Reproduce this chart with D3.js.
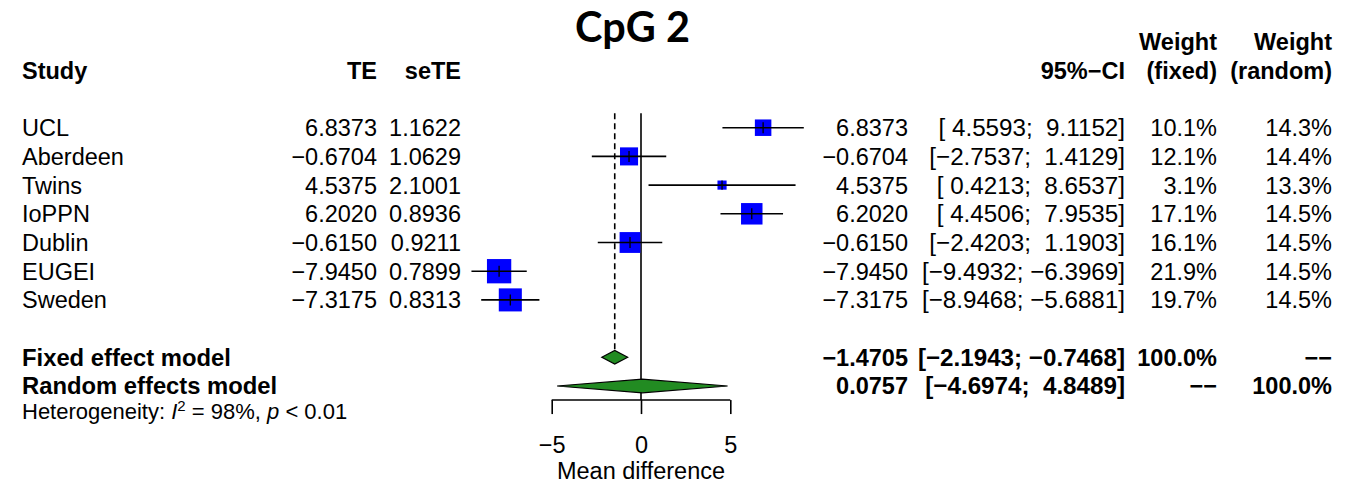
<!DOCTYPE html>
<html>
<head>
<meta charset="utf-8">
<script src="https://cdn.jsdelivr.net/npm/d3@7"></script>
<style>
  body { margin: 0; background: #fff; }
  text { font-family: "Liberation Sans", Arial, sans-serif; white-space: pre; }
</style>
</head>
<body>
<svg id="chart" width="1353" height="484"></svg>
<script>
const studies = ["UCL", "Aberdeen", "Twins", "IoPPN", "Dublin", "EUGEI", "Sweden"];
const te      = [6.8373, -0.6704, 4.5375, 6.2020, -0.6150, -7.9450, -7.3175];
const seTE    = [1.1622, 1.0629, 2.1001, 0.8936, 0.9211, 0.7899, 0.8313];
const lower   = [4.5593, -2.7537, 0.4213, 4.4506, -2.4203, -9.4932, -8.9468];
const upper   = [9.1152, 1.4129, 8.6537, 7.9535, 1.1903, -6.3969, -5.6881];
const wFixed  = [10.1, 12.1, 3.1, 17.1, 16.1, 21.9, 19.7];
const wRandom = [14.3, 14.4, 13.3, 14.5, 14.5, 14.5, 14.5];

const models       = ["Fixed effect model", "Random effects model"];
const modelTE      = [-1.4705, 0.0757];
const modelLower   = [-2.1943, -4.6974];
const modelUpper   = [-0.7468, 4.8489];
const modelWFixed  = [100.0, null];
const modelWRandom = [null, 100.0];

const xTicks = [-5, 0, 5];
const chartTitle = "CpG 2";
const xLabel = "Mean difference";

(function () {
const svg = d3.select("#chart");
const FS = 23.5;

// scales
const x = d3.scaleLinear().domain([-5, 5]).range([551.7, 730.3]);
const row = d3.scaleLinear().domain([0, 1]).range([127.7, 156.4]); // row index -> centre y
const sq = d3.scaleSqrt().domain([0, 21.9]).range([0, 24.3]);       // weight -> square side

const f4 = d3.format(".4f");
const f1 = d3.format(".1f");
const pad = v => (v >= 0 ? " " : "") + f4(v);
const ci = (l, u) => "[" + pad(l) + "; " + pad(u) + "]";
const pct = v => v == null ? "\u2212\u2212" : f1(v) + "%";

const col = { study: 22, te: 377, se: 461, est: 908, ci: 1125, wf: 1217, wr: 1332 };
const base = i => row(i) + 8.4;

function txt(xp, yp, s, opts = {}) {
  return svg.append("text")
    .attr("x", xp).attr("y", yp)
    .attr("font-size", opts.size || FS)
    .attr("font-weight", opts.bold ? "bold" : "normal")
    .attr("text-anchor", opts.anchor || "start")
    .attr("fill", "#000")
    .text(s);
}

// title
const t = svg.append("text")
  .attr("x", 632.5).attr("y", 42)
  .attr("text-anchor", "middle")
  .attr("font-weight", "bold")
  .style("font-family", "Lato, 'Open Sans', sans-serif")
  .attr("font-size", 38)
  .text(chartTitle);
const tl = t.node().getComputedTextLength();
t.attr("font-size", 38 * 115 / tl);

// headers
txt(col.study, base(-2), "Study", { bold: true });
txt(col.te, base(-2), "TE", { bold: true, anchor: "end" });
txt(col.se, base(-2), "seTE", { bold: true, anchor: "end" });
txt(col.ci, base(-2), "95%\u2212CI", { bold: true, anchor: "end" });
txt(col.wf, base(-3), "Weight", { bold: true, anchor: "end" });
txt(col.wf, base(-2), "(fixed)", { bold: true, anchor: "end" });
txt(col.wr, base(-3), "Weight", { bold: true, anchor: "end" });
txt(col.wr, base(-2), "(random)", { bold: true, anchor: "end" });

// study rows text
studies.forEach((s, i) => {
  txt(col.study, base(i), s);
  txt(col.te, base(i), f4(te[i]), { anchor: "end" });
  txt(col.se, base(i), f4(seTE[i]), { anchor: "end" });
  txt(col.est, base(i), f4(te[i]), { anchor: "end" });
  txt(col.ci, base(i), ci(lower[i], upper[i]), { anchor: "end", size: 24.2 });
  txt(col.wf, base(i), pct(wFixed[i]), { anchor: "end" });
  txt(col.wr, base(i), pct(wRandom[i]), { anchor: "end" });
});

// model rows text
models.forEach((m, j) => {
  const i = 8 + j;
  txt(col.study, base(i), m, { bold: true, size: 23.8 });
  txt(col.est, base(i), f4(modelTE[j]), { bold: true, anchor: "end" });
  txt(col.ci, base(i), ci(modelLower[j], modelUpper[j]), { bold: true, anchor: "end", size: 24.2 });
  txt(col.wf, base(i), pct(modelWFixed[j]), { bold: true, anchor: "end" });
  txt(col.wr, base(i), pct(modelWRandom[j]), { bold: true, anchor: "end" });
});

// heterogeneity
const het = svg.append("text")
  .attr("x", col.study).attr("y", 419)
  .attr("font-size", 22);
het.append("tspan").text("Heterogeneity: ");
het.append("tspan").attr("font-style", "italic").text("I");
het.append("tspan").attr("font-size", 15).attr("dy", -8).text("2");
het.append("tspan").attr("dy", 8).text(" = 98%, ");
het.append("tspan").attr("font-style", "italic").text("p");
het.append("tspan").text(" < 0.01");

// reference lines
const yTop = row(-0.5);
svg.append("line")
  .attr("x1", x(0)).attr("x2", x(0))
  .attr("y1", yTop).attr("y2", row(9.49))
  .attr("stroke", "#000").attr("stroke-width", 1.6);
svg.append("line")
  .attr("x1", x(modelTE[0])).attr("x2", x(modelTE[0]))
  .attr("y1", yTop).attr("y2", row(8) - 6.7)
  .attr("stroke", "#000").attr("stroke-width", 1.6)
  .attr("stroke-dasharray", "6,4");

// study marks
const g = svg.append("g");
studies.forEach((s, i) => {
  const cy = row(i);
  const side = sq(wFixed[i]);
  g.append("rect")
    .attr("x", x(te[i]) - side / 2).attr("y", cy - side / 2)
    .attr("width", side).attr("height", side)
    .attr("fill", "#0000ff");
  g.append("line")
    .attr("x1", x(lower[i])).attr("x2", x(upper[i]))
    .attr("y1", cy).attr("y2", cy)
    .attr("stroke", "#000").attr("stroke-width", 1.6);
  const th = Math.min(side, 11) / 2;
  g.append("line")
    .attr("x1", x(te[i])).attr("x2", x(te[i]))
    .attr("y1", cy - th).attr("y2", cy + th)
    .attr("stroke", "#000").attr("stroke-width", 1.3);
});

// diamonds
models.forEach((m, j) => {
  const cy = row(8 + j);
  const h = 6.8;
  const pts = [[x(modelLower[j]), cy], [x(modelTE[j]), cy - h], [x(modelUpper[j]), cy], [x(modelTE[j]), cy + h]];
  svg.append("path")
    .attr("d", d3.line()(pts) + "Z")
    .attr("fill", "#228b22")
    .attr("stroke", "#000").attr("stroke-width", 1.2);
});

// axis
const axis = d3.axisBottom(x.copy())
  .tickValues(xTicks)
  .tickSize(14)
  .tickSizeOuter(0)
  .tickPadding(22)
  .tickFormat(d3.format("d"));
const ag = svg.append("g")
  .attr("transform", `translate(0,${row(9.49)})`)
  .call(axis);
ag.select(".domain").attr("stroke-width", 1.6).attr("d", `M${x(-5)},0H${x(5)}`);
ag.selectAll(".tick line").attr("stroke-width", 1.6);
ag.selectAll(".tick text")
  .attr("font-size", FS)
  .attr("font-family", "'Liberation Sans', Arial, sans-serif")
  .attr("fill", "#000");

svg.append("text")
  .attr("x", x(0)).attr("y", 478.5)
  .attr("text-anchor", "middle")
  .attr("font-size", FS)
  .text(xLabel);
})();
</script>
</body>
</html>
